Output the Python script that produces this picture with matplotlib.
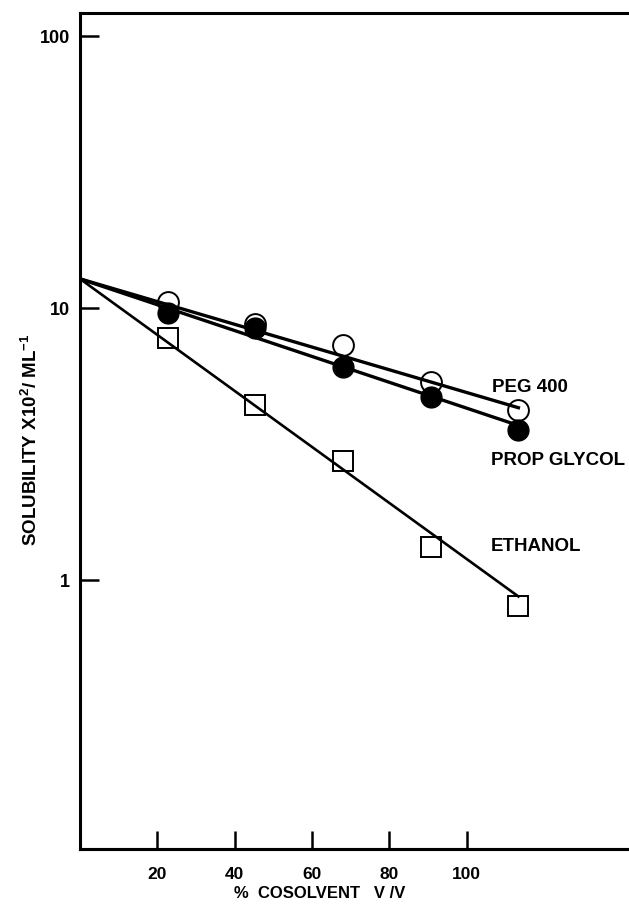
import numpy as np
import matplotlib
matplotlib.use("Agg")
import matplotlib.pyplot as plt

plt.rcParams['font.family'] = ['Liberation Sans', 'DejaVu Sans']
plt.rcParams['font.weight'] = 'bold'
plt.rcParams['mathtext.fontset'] = 'custom'
plt.rcParams['mathtext.bf'] = 'Liberation Sans:bold'
plt.rcParams['mathtext.rm'] = 'Liberation Sans:bold'
plt.rcParams['mathtext.default'] = 'bf'

# % cosolvent v/v
cosolvent = [20, 40, 60, 80, 100]
# solubility x10^2 / mL^-1
peg400 = [10.5, 8.7, 7.3, 5.35, 4.2]
prop_glycol = [9.6, 8.45, 6.05, 4.7, 3.55]
ethanol = [7.75, 4.4, 2.75, 1.32, 0.8]

# fitted lines, drawn from 0 % to 100 %
fit_x = [0, 100]
peg_fit = [12.8, 4.3]
pg_fit = [12.8, 3.7]
eth_fit = [12.8, 0.87]

xtick_vals = [20, 40, 60, 80, 100]
ytick_vals = [1, 10, 100]

fig = plt.figure(figsize=(6.29, 9.09), dpi=100)
ax = fig.add_axes([80/629, 60/909, 548/629, 836/909])

ax.plot(fit_x, peg_fit, color='black', lw=2.4, zorder=2)
ax.plot(fit_x, pg_fit, color='black', lw=2.4, zorder=2)
ax.plot(fit_x, eth_fit, color='black', lw=1.9, zorder=2)

ax.plot(cosolvent, peg400, 'o', ms=15, mfc='none', mec='black', mew=1.4, zorder=3)
ax.plot(cosolvent, prop_glycol, 'o', ms=15, mfc='black', mec='black', zorder=4)
ax.plot(cosolvent, ethanol, 's', ms=15, mfc='none', mec='black', mew=1.4, zorder=3)

ax.text(94, 5.1, 'PEG 400', fontsize=13.5, fontweight='bold', va='center', ha='left')
ax.text(93.8, 2.75, 'PROP GLYCOL', fontsize=13.5, fontweight='bold', va='center', ha='left')
ax.text(93.8, 1.33, 'ETHANOL', fontsize=13.5, fontweight='bold', va='center', ha='left')

ax.set_yscale('log')
ax.set_xlim(0, 125)
ax.set_ylim(0.1026, 121.5)
ax.set_yticks(ytick_vals)
ax.set_yticklabels([str(v) for v in ytick_vals])
ax.yaxis.set_minor_locator(matplotlib.ticker.NullLocator())
ax.tick_params(axis='y', direction='in', length=14, width=1.8, pad=7, labelsize=13)
ax.set_xticks([])

# the printed tick marks sit on a slightly tighter spacing than the points
k = 77.3 / 87.6
sec = ax.secondary_xaxis('bottom', functions=(lambda x: x / k, lambda x: x * k))
sec.set_xticks(xtick_vals)
sec.tick_params(direction='in', length=13, width=1.8, pad=13, labelsize=12.5)
sec.spines['bottom'].set_linewidth(2.2)
fig.text(320/629, 1 - 893/909, '%  COSOLVENT   V /V', fontsize=12, fontweight='bold',
         ha='center', va='center')

for s in ['left', 'top', 'bottom']:
    ax.spines[s].set_linewidth(2.2)
ax.spines['right'].set_visible(False)

ax.set_ylabel(r'SOLUBILITY X10$^{2}$/ ML$^{-1}$', fontsize=13.5, fontweight='bold')
ax.yaxis.set_label_coords(-0.072, 0.49)

fig.savefig('out.png', dpi=100)
